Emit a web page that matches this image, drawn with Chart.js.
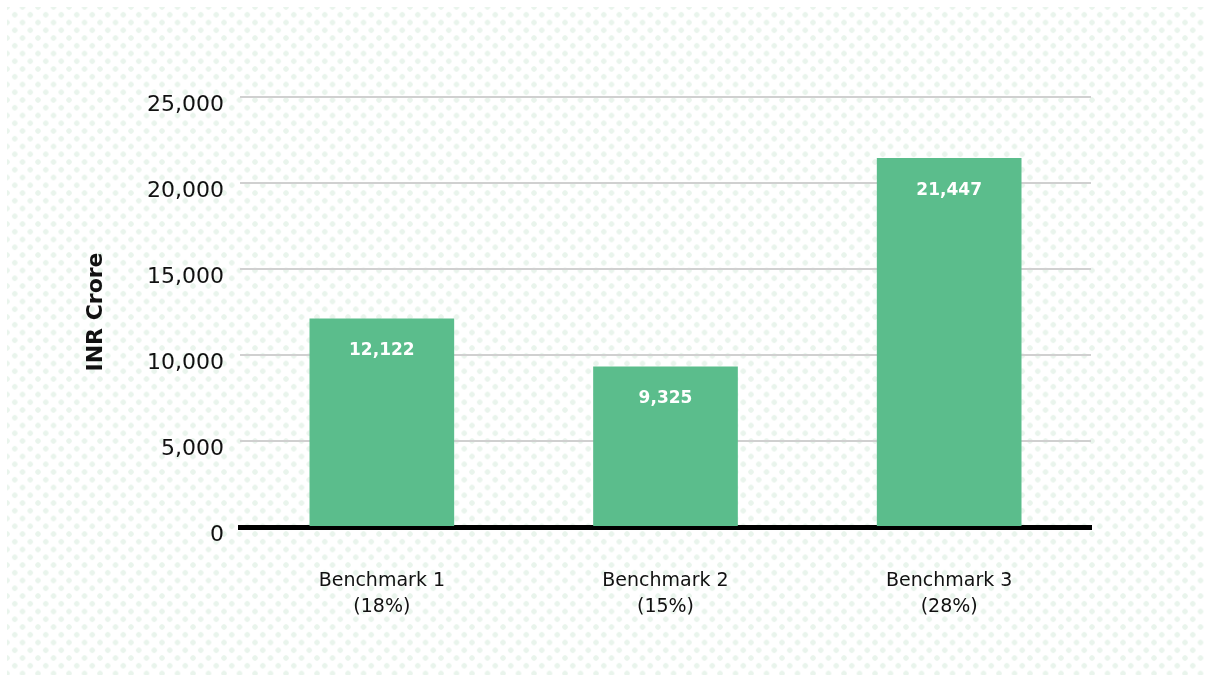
<!DOCTYPE html>
<html>
<head>
<meta charset="utf-8">
<script src="https://cdn.jsdelivr.net/npm/chart.js@4/dist/chart.umd.min.js"></script>
<style>
  html, body { margin: 0; padding: 0; background: #ffffff; width: 1205px; height: 675px; overflow: hidden; }
  #dots {
    position: absolute; left: 7px; top: 7px; right: 0; bottom: 0;
    background-image:
      radial-gradient(circle, #e9f4ec 2.4px, rgba(255,255,255,0) 3px),
      radial-gradient(circle, #e9f4ec 2.4px, rgba(255,255,255,0) 3px);
    background-size: 15.5px 15.5px;
    background-position: -7.75px -7.75px, 0 0;
  }
  #wrap { position: absolute; left: 0; top: 0; width: 1205px; height: 675px; }
</style>
</head>
<body>
<div id="dots"></div>
<div id="wrap"><canvas id="c" width="1205" height="675"></canvas></div>
<script>
const benchmarkNames = ['Benchmark 1', 'Benchmark 2', 'Benchmark 3'];
const benchmarkShares = ['(18%)', '(15%)', '(28%)'];
const inrCrore = [12122, 9325, 21447];
const yTicks = [0, 5000, 10000, 15000, 20000, 25000];
const yAxisTitle = 'INR Crore';

const labels = benchmarkNames.map((n, i) => [n, benchmarkShares[i]]);
const fontFamily = "'DejaVu Sans', sans-serif";

const valueLabels = {
  id: 'valueLabels',
  afterDatasetsDraw(chart) {
    const ctx = chart.ctx;
    const meta = chart.getDatasetMeta(0);
    const data = chart.data.datasets[0].data;
    ctx.save();
    ctx.fillStyle = '#ffffff';
    ctx.font = "bold 17px " + fontFamily;
    ctx.textAlign = 'center';
    ctx.textBaseline = 'middle';
    meta.data.forEach((bar, i) => {
      ctx.fillText(data[i].toLocaleString('en-US'), bar.x, bar.y + 32);
    });
    ctx.restore();
  }
};

new Chart(document.getElementById('c'), {
  type: 'bar',
  data: {
    labels: labels,
    datasets: [{
      data: inrCrore,
      backgroundColor: '#5bbd8c',
      borderWidth: 0,
      barPercentage: 0.51,
      categoryPercentage: 1.0
    }]
  },
  options: {
    responsive: false,
    animation: false,
    devicePixelRatio: 1,
    layout: { padding: { left: 0, top: 97, right: 114, bottom: 0 } },
    plugins: { legend: { display: false }, tooltip: { enabled: false } },
    scales: {
      x: {
        z: 1,
        grid: { display: false, drawTicks: false },
        border: { display: true, color: '#000000', width: 5 },
        ticks: {
          color: '#111111',
          font: { family: fontFamily, size: 19, lineHeight: 1.32 },
          padding: 42,
          maxRotation: 0
        },
        afterFit(scale) { scale.height = 148; }
      },
      y: {
        min: 0,
        max: 25000,
        afterBuildTicks(scale) { scale.ticks = yTicks.map(v => ({ value: v })); },
        grid: { color: '#d0d0d0', lineWidth: 2, drawTicks: false },
        border: { display: false },
        ticks: {
          color: '#111111',
          font: { family: fontFamily, size: 22 },
          padding: 16,
          labelOffset: 8,
          callback: (v) => Number(v).toLocaleString('en-US')
        },
        title: {
          display: true,
          text: yAxisTitle,
          color: '#111111',
          font: { family: fontFamily, size: 22, weight: 'bold' },
          padding: { top: 83, bottom: 0 }
        },
        afterFit(scale) { scale.width = 240; }
      }
    }
  },
  plugins: [valueLabels]
});
</script>
</body>
</html>
